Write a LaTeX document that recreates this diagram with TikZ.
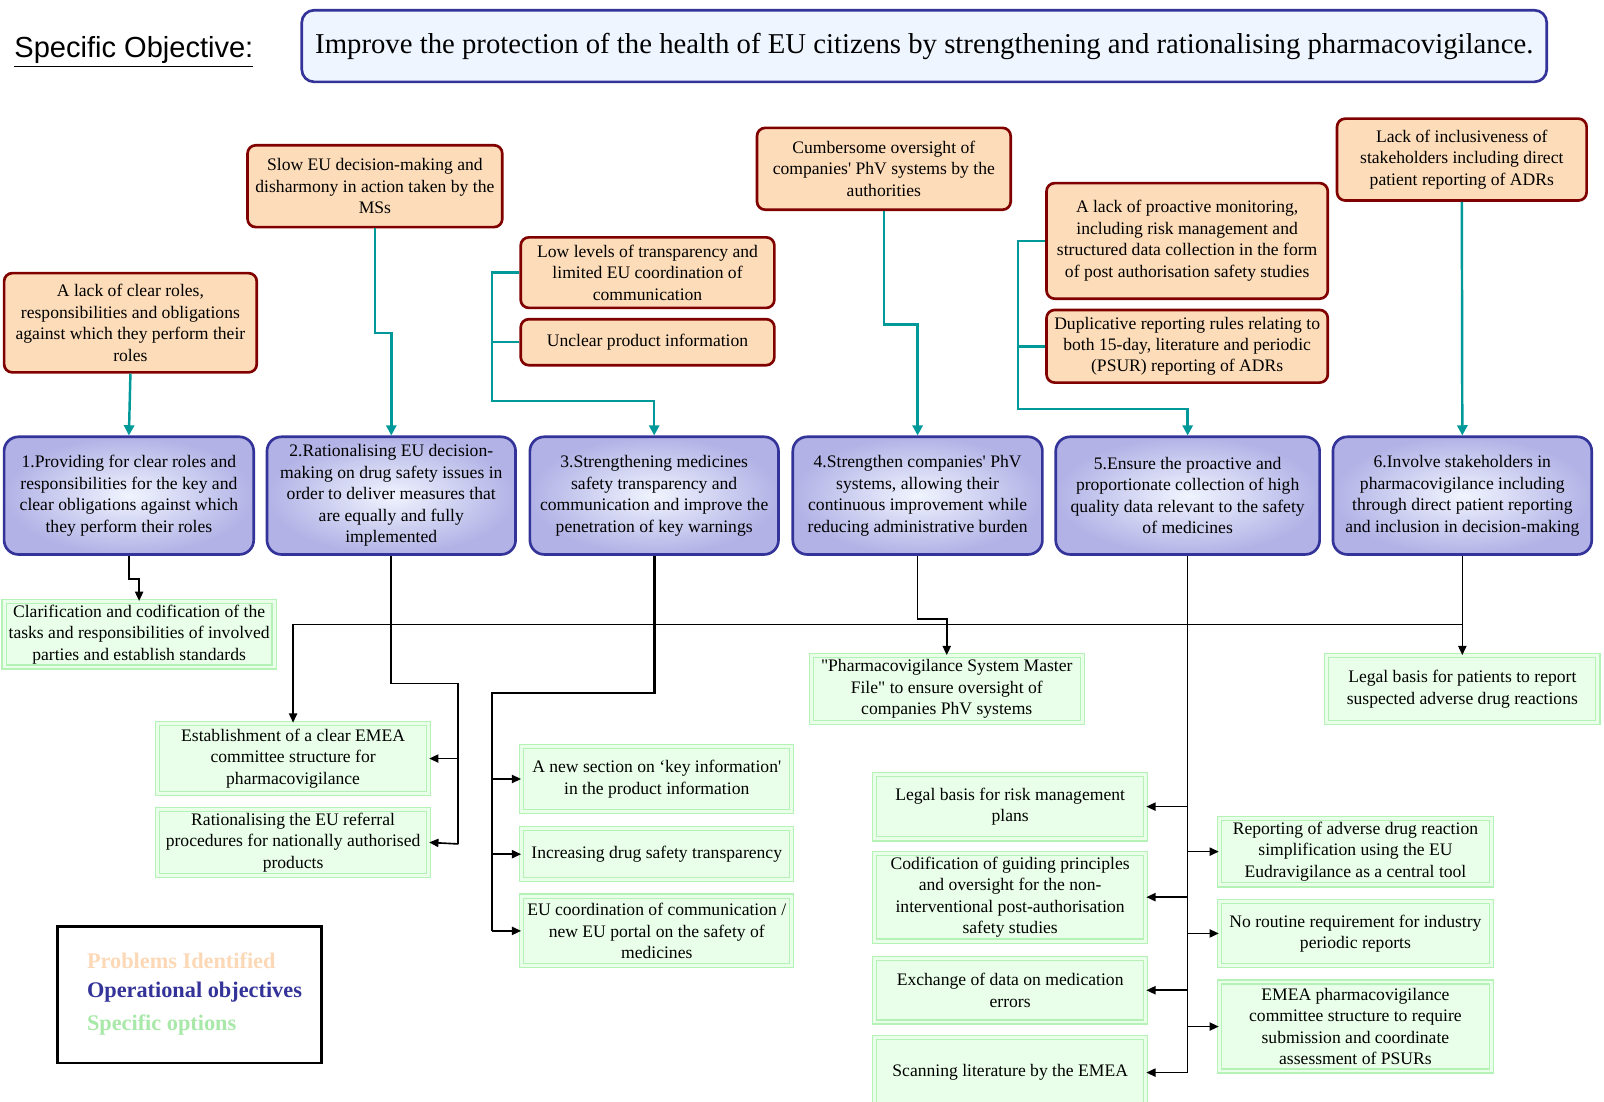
\documentclass[tikz,border=0pt]{standalone}
\usepackage{fontspec}
\setmainfont{Liberation Serif}
\newfontfamily\arialfont{Liberation Sans}
\usetikzlibrary{arrows.meta}

\definecolor{probfill}{HTML}{FDDCB9}
\definecolor{probline}{HTML}{800000}
\definecolor{objline}{HTML}{333399}
\definecolor{objin}{HTML}{F0F4FE}
\definecolor{objout}{HTML}{B2B2E6}
\definecolor{optfill}{HTML}{E9FFE9}
\definecolor{optline}{HTML}{B5F2B5}
\definecolor{goalfill}{HTML}{EEF5FF}
\definecolor{linkteal}{HTML}{009999}
\definecolor{legpeach}{HTML}{FCD8B6}
\definecolor{leggreen}{HTML}{A8E8A8}

\begin{document}
\begin{tikzpicture}[x=0.5pt,y=-0.5pt,
  boxfont/.style={font=\fontsize{8.6}{10.5}\selectfont},
  problem/.style={draw=probline, fill=probfill, line width=1.3pt, rounded corners=4pt, align=center, boxfont, inner sep=1pt},
  objective/.style={draw=objline, inner color=objin, outer color=objout, line width=1.3pt, rounded corners=7pt, align=center, boxfont, minimum height=57.5pt, inner sep=1pt},
  optbox/.style={draw=optline, double=optfill, double distance=1.4pt, line width=0.6pt, fill=optfill, align=center, boxfont, inner sep=1pt},
  tealline/.style={draw=linkteal, line width=1.2pt},
  tealarrow/.style={tealline, -{Triangle[length=5pt,width=5pt]}},
  blackline/.style={line width=0.8pt},
  blackarrow/.style={blackline, -{Triangle[length=4.5pt,width=4pt]}}]
  \clip (0,0) rectangle (1568,1077);

  \node[anchor=west, font=\arialfont\fontsize{14.2}{17}\selectfont] (so) at (7,51) {\underline{Specific Objective:}};
  \node[draw=objline, fill=goalfill, line width=1.3pt, rounded corners=6pt, minimum width=608.5pt, minimum height=35pt, font=\fontsize{14.05}{16}\selectfont] (goal) at (903.5,45) {Improve the protection of the health of EU citizens by strengthening and rationalising pharmacovigilance.};

  \node[problem, minimum width=123.5pt, minimum height=48.5pt] (p1) at (127.5,315.5) {A lack of clear roles,\\responsibilities and obligations\\against which they perform their\\roles};
  \node[problem, minimum width=124.5pt, minimum height=40pt] (p2) at (366.5,182) {Slow EU decision-making and\\disharmony in action taken by the\\MSs};
  \node[problem, minimum width=124pt, minimum height=34.5pt] (p3a) at (633,266.5) {Low levels of transparency and\\limited EU coordination of\\communication};
  \node[problem, minimum width=124pt, minimum height=22.5pt] (p3b) at (633,334.5) {Unclear product information};
  \node[problem, minimum width=124pt, minimum height=40pt] (p4) at (864,165) {Cumbersome oversight of\\companies\textquotesingle{} PhV systems by the\\authorities};
  \node[problem, minimum width=137.5pt, minimum height=56.5pt] (p5a) at (1160.5,235.5) {A lack of proactive monitoring,\\including risk management and\\structured data collection in the form\\of post authorisation safety studies};
  \node[problem, minimum width=137.5pt, minimum height=35.5pt] (p5b) at (1160.5,338.5) {Duplicative reporting rules relating to\\both 15-day, literature and periodic\\(PSUR) reporting of ADRs};
  \node[problem, minimum width=122pt, minimum height=40pt] (p6) at (1429,156) {Lack of inclusiveness of\\stakeholders including direct\\patient reporting of ADRs};

  \node[objective, minimum width=122pt] (o1) at (126,484.5) {1.Providing for clear roles and\\responsibilities for the key and\\clear obligations against which\\they perform their roles};
  \node[objective, minimum width=121.5pt] (o2) at (382.5,484.5) {2.Rationalising EU decision-\\making on drug safety issues in\\order to deliver measures that\\are equally and fully\\implemented};
  \node[objective, minimum width=121.5pt] (o3) at (639.5,484.5) {3.Strengthening medicines\\safety transparency and\\communication and improve the\\penetration of key warnings};
  \node[objective, minimum width=122pt] (o4) at (897,484.5) {4.Strengthen companies\textquotesingle{} PhV\\systems, allowing their\\continuous improvement while\\reducing administrative burden};
  \node[objective, minimum width=129pt] (o5) at (1161,484.5) {5.Ensure the proactive and\\proportionate collection of high\\quality data relevant to the safety\\of medicines};
  \node[objective, minimum width=126.5pt] (o6) at (1429.5,484.5) {6.Involve stakeholders in\\pharmacovigilance including\\through direct patient reporting\\and inclusion in decision-making};

  \node[optbox, minimum width=132pt, minimum height=32pt] (s1) at (136,620) {Clarification and codification of the\\tasks and responsibilities of involved\\parties and establish standards};
  \node[optbox, minimum width=132.5pt, minimum height=34.5pt] (s2a) at (286.5,741.5) {Establishment of a clear EMEA\\committee structure for\\pharmacovigilance};
  \node[optbox, minimum width=132.5pt, minimum height=32.5pt] (s2b) at (286.5,823.5) {Rationalising the EU referral\\procedures for nationally authorised\\products};
  \node[optbox, minimum width=132pt, minimum height=31.5pt] (s3a) at (642,761.5) {A new section on `key information\textquotesingle\\in the product information};
  \node[optbox, minimum width=132pt, minimum height=25pt] (s3b) at (642,835) {Increasing drug safety transparency};
  \node[optbox, minimum width=132pt, minimum height=34pt] (s3c) at (642,910) {EU coordination of communication /\\new EU portal on the safety of\\medicines};
  \node[optbox, minimum width=132.5pt, minimum height=32.5pt] (s4) at (925.5,673.5) {\textquotedbl Pharmacovigilance System Master\\File\textquotedbl{} to ensure oversight of\\companies PhV systems};
  \node[optbox, minimum width=132.5pt, minimum height=31.5pt] (l1) at (987.5,788.5) {Legal basis for risk management\\plans};
  \node[optbox, minimum width=132.5pt, minimum height=43pt] (l2) at (987.5,877) {Codification of guiding principles\\and oversight for the non-\\interventional post-authorisation\\safety studies};
  \node[optbox, minimum width=132.5pt, minimum height=31pt] (l3) at (987.5,968) {Exchange of data on medication\\errors};
  \node[optbox, minimum width=132.5pt, minimum height=34.5pt] (l4) at (987.5,1048.5) {Scanning literature by the EMEA};
  \node[optbox, minimum width=133pt, minimum height=32.5pt] (r1) at (1325,832.5) {Reporting of adverse drug reaction\\simplification using the EU\\Eudravigilance as a central tool};
  \node[optbox, minimum width=133pt, minimum height=31.5pt] (r2) at (1325,912.5) {No routine requirement for industry\\periodic reports};
  \node[optbox, minimum width=133pt, minimum height=43.5pt] (r3) at (1325,1003.5) {EMEA pharmacovigilance\\committee structure to require\\submission and coordinate\\assessment of PSURs};
  \node[optbox, minimum width=132.5pt, minimum height=32.5pt] (s6) at (1429.5,673.5) {Legal basis for patients to report\\suspected adverse drug reactions};

  \node[draw, line width=1.3pt, minimum width=129pt, minimum height=66.5pt] (legend) at (185,972.5) {};
  \node[anchor=west, text=legpeach, font=\bfseries\fontsize{10.9}{13}\selectfont] (lp) at (78,939) {Problems Identified};
  \node[anchor=west, text=objline, font=\bfseries\fontsize{10.9}{13}\selectfont] (lo) at (78,970) {Operational objectives};
  \node[anchor=west, text=leggreen, font=\bfseries\fontsize{10.9}{13}\selectfont] (ls) at (78,1002) {Specific options};

  \draw[tealarrow] (p1.south) -- (o1.north);
  \draw[tealarrow] (p2.south) -- ++(0,102) -| (o2.north);
  \coordinate (b3) at (481,392);
  \draw[tealarrow] (p3a.west) -| (b3) -| (o3.north);
  \draw[tealline] (p3b.west) -- (p3b.west -| b3);
  \draw[tealarrow] (p4.south) -- ++(0,111) -| (o4.north);
  \coordinate (b5) at (995,400);
  \draw[tealarrow] (p5a.west) -| (b5) -| (o5.north);
  \draw[tealline] (p5b.west) -- (p5b.west -| b5);
  \draw[tealarrow] (p6.south) -- (o6.north);

  \draw[blackarrow] (o1.south) -- ++(0,23) -| (s1.north);
  \draw[blackarrow] (o6.south) -- (s6.north);
  \path (o6.south) ++(0,67) coordinate (j6);
  \draw[blackarrow] (j6) -| (s2a.north);
  \coordinate (b2) at (448,825);
  \draw[blackline] (o2.south) -- ++(0,125) -| (b2);
  \draw[blackarrow] (s2a.east -| b2) -- (s2a.east);
  \draw[blackarrow] (b2) -- (s2b.east);
  \coordinate (b3s) at (481,910);
  \draw[line width=1.3pt] (o3.south) -- ++(0,134) -| (b3s);
  \draw[blackarrow] (s3a.west -| b3s) -- (s3a.west);
  \draw[blackarrow] (s3b.west -| b3s) -- (s3b.west);
  \draw[blackarrow] (b3s) -- (s3c.west);
  \draw[blackarrow] (o4.south) -- ++(0,62) -| (s4.north);
  \draw[blackline] (o5.south) -- (o5.south |- l4.east);
  \draw[blackarrow] (l1.east -| o5.south) -- (l1.east);
  \draw[blackarrow] (l2.east -| o5.south) -- (l2.east);
  \draw[blackarrow] (l3.east -| o5.south) -- (l3.east);
  \draw[blackarrow] (l4.east -| o5.south) -- (l4.east);
  \draw[blackarrow] (r1.west -| o5.south) -- (r1.west);
  \draw[blackarrow] (r2.west -| o5.south) -- (r2.west);
  \draw[blackarrow] (r3.west -| o5.south) -- (r3.west);
\end{tikzpicture}
\end{document}
